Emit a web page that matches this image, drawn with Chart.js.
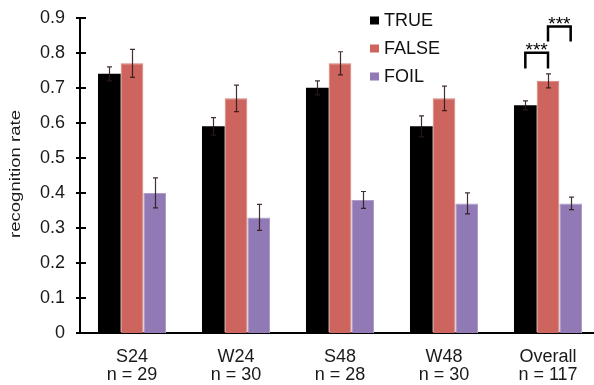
<!DOCTYPE html>
<html><head><meta charset="utf-8">
<script src="https://cdn.jsdelivr.net/npm/chart.js@4.4.1/dist/chart.umd.min.js"></script>
<style>html,body{margin:0;padding:0;background:#fff;overflow:hidden;width:594px;height:385px}canvas{display:block}</style>
</head><body><canvas id="c" width="600" height="385"></canvas>
<script>
const categories = ['S24', 'W24', 'S48', 'W48', 'Overall'];
const sampleSizes = ['n = 29', 'n = 30', 'n = 28', 'n = 30', 'n = 117'];
const seriesNames = ['TRUE', 'FALSE', 'FOIL'];
const trueRate = [0.74, 0.59, 0.70, 0.59, 0.65];
const falseRate = [0.77, 0.67, 0.77, 0.67, 0.72];
const foilRate = [0.40, 0.33, 0.38, 0.37, 0.37];
const trueErr = [0.02, 0.025, 0.02, 0.03, 0.013];
const falseErr = [0.04, 0.038, 0.033, 0.035, 0.02];
const foilErr = [0.043, 0.037, 0.024, 0.03, 0.018];
const yTickLabels = ['0', '0.1', '0.2', '0.3', '0.4', '0.5', '0.6', '0.7', '0.8', '0.9'];
const yTitle = 'recognition rate';
// significance brackets: category index, series from/to, bracket top & leg bottom (data units)
const sigCategory = [4, 4];
const sigFrom = [0, 1];
const sigTo = [1, 2];
const sigTop = [0.80, 0.875];
const sigBottom = [0.755, 0.832];
const sigLabel = ['***', '***'];

const FONT = '"Liberation Sans", Arial, sans-serif';
const colors = ['#000000', '#CD645E', '#9079B4'];
const borders = ['#000000', '#D6807A', '#AE9DCA'];
const errs = [trueErr, falseErr, foilErr];

const errorBars = {
  id: 'errorBars',
  afterDatasetsDraw(chart) {
    const ctx = chart.ctx, y = chart.scales.y;
    ctx.save();
    ctx.strokeStyle = 'rgba(45,25,25,0.9)';
    ctx.lineWidth = 1.2;
    chart.data.datasets.forEach((ds, i) => {
      const meta = chart.getDatasetMeta(i);
      meta.data.forEach((el, j) => {
        const v = ds.data[j], e = errs[i][j];
        const x = Math.round(el.x) + 0.5;
        const t = y.getPixelForValue(v + e), b = y.getPixelForValue(v - e);
        ctx.beginPath();
        ctx.moveTo(x, t); ctx.lineTo(x, b);
        ctx.moveTo(x - 2.5, t); ctx.lineTo(x + 2.5, t);
        ctx.moveTo(x - 2.5, b); ctx.lineTo(x + 2.5, b);
        ctx.stroke();
      });
    });
    ctx.restore();
  }
};

const decorations = {
  id: 'decorations',
  afterDraw(chart) {
    const ctx = chart.ctx, y = chart.scales.y, ca = chart.chartArea;
    ctx.save();
    // y ticks crossing the axis
    ctx.strokeStyle = '#000'; ctx.lineWidth = 2;
    y.ticks.forEach((t, i) => {
      const py = Math.round(y.getPixelForTick(i));
      ctx.beginPath(); ctx.moveTo(ca.left - 4, py); ctx.lineTo(ca.left + 6, py); ctx.stroke();
    });
    ctx.beginPath(); ctx.moveTo(ca.left - 4, ca.bottom); ctx.lineTo(ca.left, ca.bottom); ctx.stroke();
    // y title (stretched along its reading direction)
    ctx.save();
    ctx.translate(16, 174);
    ctx.rotate(-Math.PI / 2);
    ctx.font = '14px ' + FONT;
    const w = ctx.measureText(yTitle).width;
    ctx.scale(128 / w, 1);
    ctx.fillStyle = '#1a1a1a';
    ctx.textAlign = 'center'; ctx.textBaseline = 'middle';
    ctx.fillText(yTitle, 0, 0);
    ctx.restore();
    // legend
    ctx.font = '18px ' + FONT;
    ctx.textBaseline = 'middle'; ctx.textAlign = 'left';
    chart.data.datasets.forEach((ds, i) => {
      const cy = 20.5 + i * 28;
      ctx.fillStyle = ds.backgroundColor;
      ctx.fillRect(370, cy - 4, 9, 8);
      ctx.fillStyle = '#111';
      ctx.fillText(ds.label, 384, cy + 1);
    });
    // significance brackets
    ctx.lineWidth = 2.5; ctx.strokeStyle = '#000';
    sigCategory.forEach((c, k) => {
      const x1 = chart.getDatasetMeta(sigFrom[k]).data[c].x;
      const x2 = chart.getDatasetMeta(sigTo[k]).data[c].x;
      const yt = y.getPixelForValue(sigTop[k]), yb = y.getPixelForValue(sigBottom[k]);
      ctx.beginPath();
      ctx.moveTo(x1, yb); ctx.lineTo(x1, yt); ctx.lineTo(x2, yt); ctx.lineTo(x2, yb);
      ctx.stroke();
      ctx.font = '19px ' + FONT;
      ctx.fillStyle = '#000'; ctx.textAlign = 'center'; ctx.textBaseline = 'alphabetic';
      ctx.fillText(sigLabel[k], (x1 + x2) / 2, yt + 3);
    });
    ctx.restore();
  }
};

new Chart(document.getElementById('c'), {
  type: 'bar',
  data: {
    labels: categories.map((c, i) => [c, sampleSizes[i]]),
    datasets: [trueRate, falseRate, foilRate].map((d, i) => ({
      label: seriesNames[i],
      data: d,
      backgroundColor: colors[i],
      borderColor: borders[i],
      borderWidth: i === 0 ? 0 : 1,
      categoryPercentage: 0.654,
      barPercentage: 1.0
    }))
  },
  options: {
    responsive: false,
    animation: false,
    devicePixelRatio: 1,
    layout: { padding: { top: 15, left: 0, right: 0, bottom: 0 } },
    plugins: { legend: { display: false }, tooltip: { enabled: false } },
    scales: {
      x: {
        grid: { display: false, drawTicks: false },
        border: { display: true, color: '#000', width: 2 },
        ticks: { color: '#1a1a1a', font: { family: FONT, size: 18, lineHeight: 1.0 }, padding: 15, maxRotation: 0 },
        afterFit(s) { s.height = 52; }
      },
      y: {
        min: 0, max: 0.9,
        grid: { display: false },
        border: { display: true, color: '#000', width: 2 },
        ticks: { stepSize: 0.1, color: '#1a1a1a', font: { family: FONT, size: 18 }, padding: 7,
          callback: (v, i) => yTickLabels[i] },
        afterFit(s) { s.width = 80; }
      }
    }
  },
  plugins: [errorBars, decorations]
});
</script></body></html>
